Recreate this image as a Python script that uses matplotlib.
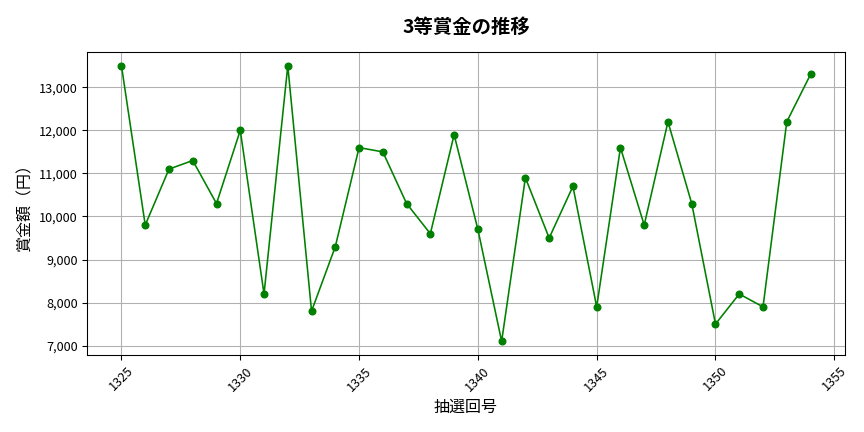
from matplotlib import pyplot as plt
from matplotlib.ticker import FuncFormatter

plt.rcParams['font.family'] = ['Noto Sans CJK JP', 'DejaVu Sans']

# 抽選回と3等賞金
draws = list(range(1325, 1355))
prizes = [13500, 9800, 11100, 11300, 10300, 12000, 8200, 13500, 7800, 9300,
          11600, 11500, 10300, 9600, 11900, 9700, 7100, 10900, 9500, 10700,
          7900, 11600, 9800, 12200, 10300, 7500, 8200, 7900, 12200, 13300]

fig, ax = plt.subplots(figsize=(9, 4.5), dpi=96)
ax.plot(draws, prizes, marker='o', color='green', linewidth=1.2, markersize=5)
ax.set_title('3等賞金の推移', fontsize=14.5, fontweight='bold', pad=14)
ax.set_xlabel('抽選回号', fontsize=12)
ax.set_ylabel('賞金額（円）', fontsize=12)
ax.yaxis.set_major_formatter(FuncFormatter(lambda v, p: f'{int(v):,}'))
ax.tick_params(axis='x', labelrotation=45)
ax.tick_params(labelsize=9.5)
ax.grid(True, color='#b0b0b0', linewidth=0.8)
fig.subplots_adjust(left=0.1007, right=0.978, top=0.8796, bottom=0.178)
fig.savefig('out.png')
